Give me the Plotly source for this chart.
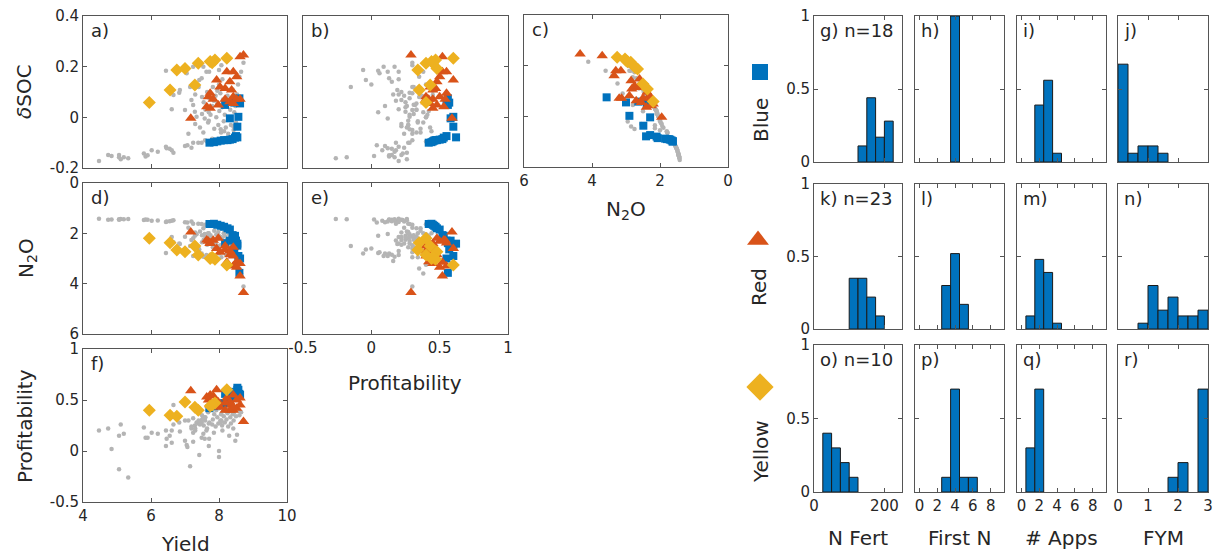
import plotly.graph_objects as go

W, H = 1220, 556
BLUE = '#0072BD'
RED = '#D95319'
YELLOW = '#EDB120'
GRAY = '#b4b4b4'
AXC = '#555555'
TXT = '#262626'
FONT = 'DejaVu Sans'

# ---------------- scatter data ----------------
gray_yield = [4.47, 4.74, 4.84, 5.06, 5.11, 5.06, 5.20, 5.33, 5.79, 5.84, 5.90, 6.02, 6.20, 6.44,
              6.46, 6.55, 6.61, 6.66, 7.00, 7.07, 7.19, 7.24, 7.39, 7.49, 7.59, 7.65, 7.80,
              6.44, 6.61, 6.66, 6.83, 7.00, 7.05, 7.15, 7.19, 7.24, 7.24, 7.29, 7.34, 7.42, 7.49,
              7.54, 7.63, 7.71, 8.07, 8.00, 8.00, 6.85,
              7.55, 7.60, 7.65, 7.68, 7.72, 7.75, 7.80, 7.82, 7.86, 7.90, 7.92, 7.95, 7.98, 8.01,
              8.04, 8.06, 8.09, 8.12, 8.14, 8.17, 8.20, 8.22, 8.25, 8.27, 8.30, 8.33, 8.35, 8.38,
              8.40, 8.43, 8.45, 8.48, 8.50, 8.53, 8.56, 8.60, 8.65, 8.72,
              7.58, 7.70, 7.85, 8.10, 8.30, 7.95, 8.15, 8.35, 7.50, 7.40, 7.30, 8.42, 7.10, 7.44,
              7.54, 7.30, 7.50, 7.70, 8.05]
gray_profit = [0.20, 0.22, 0.02, 0.15, 0.26, -0.18, 0.17, -0.26, 0.23, 0.13, 0.13, 0.18, 0.17, 0.20,
               0.12, 0.15, 0.08, 0.26, 0.10, 0.04, 0.24, 0.18, 0.27, 0.28, 0.30, 0.40, 0.44,
               0.05, 0.20, 0.45, 0.28, 0.30, 0.06, -0.15, 0.22, 0.32, 0.09, 0.25, 0.28, -0.04, 0.13,
               0.17, 0.20, 0.12, 0.30, -0.06, 0.00, 0.19,
               0.25, 0.33, 0.22, 0.38, 0.28, 0.41, 0.26, 0.31, 0.36, 0.24, 0.40, 0.33, 0.27, 0.42,
               0.30, 0.36, 0.25, 0.39, 0.34, 0.28, 0.43, 0.31, 0.37, 0.24, 0.40, 0.33, 0.27, 0.42,
               0.36, 0.30, 0.38, 0.10, 0.34, 0.16, 0.40, 0.35, 0.38, 0.30,
               0.12, 0.05, 0.18, 0.20, 0.15, 0.45, 0.44, 0.45, 0.35, 0.30, 0.20, 0.22, 0.30, 0.26,
               0.33, 0.22, 0.31, 0.27, 0.28]
gray_dsoc = [-0.172, -0.149, -0.153, -0.149, -0.165, -0.158, -0.158, -0.162, -0.143, -0.155, -0.150,
             -0.130, -0.136, -0.116, -0.122, -0.124, -0.130, -0.140, -0.113, -0.110, -0.120, -0.100,
             -0.100, -0.100, -0.090, -0.095, -0.085,
             0.184, 0.032, 0.088, 0.097, 0.029, 0.174, 0.120, 0.068, 0.049, 0.200, 0.022, 0.002,
             0.147, 0.154, 0.200, 0.180, 0.180, 0.206, 0.187, 0.130, 0.108,
             0.060, 0.030, 0.100, -0.020, 0.075, 0.010, 0.045, 0.120, -0.045, 0.085, 0.000, 0.055,
             -0.030, 0.025, 0.095, -0.060, 0.040, 0.070, -0.015, 0.010, -0.040, 0.050, 0.085,
             -0.065, 0.000, 0.030, -0.030, 0.060, 0.110, -0.050, 0.020, 0.045, -0.020, 0.090,
             0.130, 0.160, 0.180, 0.215,
             -0.005, 0.020, 0.065, 0.150, 0.140, 0.105, -0.055, 0.075, 0.080, 0.120, 0.090, -0.035,
             -0.065, -0.040, -0.060, -0.026, 0.013, -0.013, -0.047]
gray_n2o = [1.42, 1.46, 1.45, 1.46, 1.43, 1.44, 1.44, 1.43, 1.47, 1.45, 1.46, 1.50, 1.49, 1.55,
            1.53, 1.52, 1.50, 1.48, 1.56, 1.57, 1.53, 1.62, 1.62, 1.63, 1.66, 1.64, 1.68,
            2.78, 2.15, 2.35, 2.40, 2.14, 2.75, 2.50, 2.26, 2.20, 2.90, 2.10, 2.04, 2.64, 2.80,
            2.93, 2.86, 2.90, 2.95, 2.80, 2.60, 2.42,
            2.25, 2.14, 2.45, 2.00, 2.30, 2.08, 2.20, 2.55, 1.90, 2.40, 2.05, 2.22, 1.95, 2.12,
            2.47, 1.80, 2.18, 2.33, 2.00, 2.10, 2.85, 2.25, 2.40, 1.78, 2.05, 2.14, 2.55, 2.30,
            2.62, 2.75, 2.50, 2.80, 2.95, 3.10, 3.25, 3.40, 3.60, 4.11,
            2.03, 2.10, 2.28, 2.70, 2.85, 2.50, 2.00, 2.45, 2.35, 2.60, 2.40, 2.15, 1.78, 1.93,
            1.80, 1.97, 2.08, 2.00, 2.15]

blue_yield = [7.72, 7.85, 7.95, 8.05, 8.15, 8.25, 8.32, 8.40, 8.47, 8.50, 8.54, 8.54, 8.32, 8.57,
              8.18, 8.45, 8.60, 8.62]
blue_profit = [0.42, 0.44, 0.45, 0.46, 0.47, 0.48, 0.50, 0.52, 0.53, 0.55, 0.62, 0.60, 0.58, 0.60,
               0.56, 0.57, 0.56, 0.55]
blue_dsoc = [-0.100, -0.098, -0.095, -0.092, -0.090, -0.090, -0.088, -0.086, -0.080, -0.074, -0.079,
             -0.037, -0.004, 0.002, 0.049, 0.058, 0.075, 0.055]
blue_n2o = [1.63, 1.62, 1.66, 1.70, 1.74, 1.80, 1.85, 2.07, 2.10, 2.29, 2.41, 2.49, 2.29, 2.90,
            2.39, 2.64, 3.57, 3.00]

red_yield = [8.72, 8.62, 7.93, 8.23, 8.42, 8.52, 8.32, 8.18, 8.37, 8.42, 8.52, 8.62, 8.32, 7.74,
             7.69, 7.83, 7.98, 7.74, 7.64, 7.17, 8.42, 8.18, 8.03]
red_profit = [0.29, 0.52, 0.60, 0.52, 0.55, 0.50, 0.48, 0.47, 0.45, 0.40, 0.42, 0.45, 0.40, 0.55,
              0.50, 0.54, 0.48, 0.45, 0.53, 0.59, 0.43, 0.40, 0.43]
red_dsoc = [0.246, 0.239, 0.147, 0.180, 0.180, 0.160, 0.140, 0.114, 0.108, 0.081, 0.071, 0.071,
            0.062, 0.095, 0.081, 0.071, 0.049, 0.036, 0.042, -0.004, 0.055, 0.071, 0.120]
red_n2o = [4.35, 3.70, 2.60, 3.15, 3.30, 3.35, 2.85, 2.65, 2.83, 2.90, 3.13, 3.20, 2.70, 2.38,
           2.31, 2.27, 2.20, 2.40, 2.26, 1.95, 2.55, 2.50, 2.75]

yellow_yield = [5.95, 6.56, 6.76, 7.00, 7.29, 7.39, 7.74, 7.88, 8.23, 7.80]
yellow_profit = [0.40, 0.35, 0.34, 0.48, 0.43, 0.40, 0.44, 0.47, 0.60, 0.45]
yellow_dsoc = [0.059, 0.108, 0.187, 0.193, 0.128, 0.213, 0.220, 0.226, 0.233, 0.215]
yellow_n2o = [2.20, 2.37, 2.66, 2.73, 2.50, 2.86, 3.00, 3.03, 3.26, 2.95]

# ---------------- histogram data (fraction of cluster members) ----------------
cluster_names = ['Blue', 'Red', 'Yellow']
cluster_n = [18, 23, 10]

nfert_left = [0, 25, 50, 75, 100, 125, 150, 175, 200, 225]
blue_nfert = [0, 0, 0, 0, 0, 0.11, 0.44, 0.17, 0.28, 0]
red_nfert = [0, 0, 0, 0, 0.35, 0.35, 0.22, 0.09, 0, 0]
yellow_nfert = [0, 0.40, 0.30, 0.20, 0.10, 0, 0, 0, 0, 0]

firstn_center = [0, 1, 2, 3, 4, 5, 6, 7, 8, 9]
blue_firstn = [0, 0, 0, 0, 1.00, 0, 0, 0, 0, 0]
red_firstn = [0, 0, 0, 0.30, 0.52, 0.17, 0, 0, 0, 0]
yellow_firstn = [0, 0, 0, 0.10, 0.70, 0.10, 0.10, 0, 0, 0]

apps_center = [0, 1, 2, 3, 4, 5, 6, 7, 8, 9]
blue_apps = [0, 0, 0.39, 0.56, 0.06, 0, 0, 0, 0, 0]
red_apps = [0, 0.09, 0.48, 0.39, 0.04, 0, 0, 0, 0, 0]
yellow_apps = [0, 0.30, 0.70, 0, 0, 0, 0, 0, 0, 0]

fym_left = [0, 1/3, 2/3, 1, 4/3, 5/3, 2, 7/3, 8/3]
blue_fym = [0.67, 0.06, 0.11, 0.11, 0.06, 0, 0, 0, 0]
red_fym = [0, 0, 0.04, 0.30, 0.13, 0.22, 0.09, 0.09, 0.13]
yellow_fym = [0, 0, 0, 0, 0, 0.10, 0.20, 0, 0.70]

# ---------------- build figure ----------------
fig = go.Figure()
layout = {}
annotations = []

BASE = dict(showline=True, linecolor=AXC, linewidth=1, mirror='ticks', ticks='inside',
            ticklen=4, tickwidth=1, tickcolor=AXC, showgrid=False, zeroline=False,
            automargin=False, tickfont=dict(family=FONT, size=15, color=TXT), fixedrange=True)


def names(i):
    s = '' if i == 1 else str(i)
    return 'xaxis' + s, 'yaxis' + s, 'x' + s, 'y' + s


def xdom(l, r):
    return [l / W, r / W]


def ydom(t, b):
    return [1 - b / H, 1 - t / H]


def ann(x, y, text, size=18, xanchor='center', yanchor='middle', angle=0, color=TXT):
    annotations.append(dict(x=x / W, y=1 - y / H, xref='paper', yref='paper', text=text,
                            showarrow=False, xanchor=xanchor, yanchor=yanchor, textangle=angle,
                            font=dict(family=FONT, size=size, color=color)))


VARS = {
    'yield': [gray_yield, blue_yield, red_yield, yellow_yield],
    'profit': [gray_profit, blue_profit, red_profit, yellow_profit],
    'dsoc': [gray_dsoc, blue_dsoc, red_dsoc, yellow_dsoc],
    'n2o': [gray_n2o, blue_n2o, red_n2o, yellow_n2o],
}
TICKS = {
    'yield': ([4, 6, 8, 10], ['4', '6', '8', '10'], [4, 10]),
    'profit': ([-0.5, 0, 0.5, 1], ['-0.5', '0', '0.5', '1'], [-0.5, 1]),
    'dsoc': ([-0.2, 0, 0.2, 0.4], ['-0.2', '0', '0.2', '0.4'], [-0.2, 0.4]),
    'n2o': ([0, 2, 4, 6], ['0', '2', '4', '6'], [6, 0]),
}
STYLES = [
    dict(color=GRAY, symbol='circle', size=4.5, opacity=1, line=dict(width=0)),
    dict(color=BLUE, symbol='square', size=8, opacity=1, line=dict(width=0)),
    dict(color=RED, symbol='triangle-up', size=10, opacity=1, line=dict(width=0)),
    dict(color=YELLOW, symbol='diamond', size=10, opacity=1, line=dict(width=0)),
]

panels = [
    ('a)', 'yield', 'dsoc', (83, 287, 16, 168), False, True),
    ('b)', 'profit', 'dsoc', (303, 508, 16, 168), False, False),
    ('c)', 'n2o', 'dsoc', (524, 728, 15, 167), True, False),
    ('d)', 'yield', 'n2o', (83, 287, 183, 334), False, True),
    ('e)', 'profit', 'n2o', (303, 508, 183, 334), True, False),
    ('f)', 'yield', 'profit', (83, 287, 349, 502), True, True),
]

for i, (lab, xv, yv, (l, r, t, b), showx, showy) in enumerate(panels, start=1):
    xa, ya, xr, yr = names(i)
    tv, tt, rg = TICKS[xv]
    layout[xa] = dict(BASE, domain=xdom(l, r), anchor=yr, range=rg, tickvals=tv, ticktext=tt,
                      showticklabels=showx)
    tv, tt, rg = TICKS[yv]
    layout[ya] = dict(BASE, domain=ydom(t, b), anchor=xr, range=rg, tickvals=tv, ticktext=tt,
                      showticklabels=showy)
    for k in range(4):
        fig.add_trace(go.Scatter(x=VARS[xv][k], y=VARS[yv][k], mode='markers',
                                 marker=STYLES[k], xaxis=xr, yaxis=yr, showlegend=False,
                                 hoverinfo='skip'))
    ann(l + 6, t + 2, lab, size=18, xanchor='left', yanchor='top')

# axis titles for scatter matrix
ann(24, 92, '<i>δ</i>SOC', size=20, angle=-90)
ann(27, 258, 'N<sub>2</sub>O', size=20, angle=-90)
ann(25, 426, 'Profitability', size=20, angle=-90)
ann(185, 544, 'Yield', size=20)
ann(405, 383, 'Profitability', size=20)
ann(626, 210, 'N<sub>2</sub>O', size=20)

# ---------------- histograms ----------------
cols = [(814, 902), (915, 1004), (1017, 1106), (1118, 1208)]
rows = [(16, 162), (184, 329), (345, 492)]
hist_specs = [
    ('N Fert', nfert_left, 25, True, [blue_nfert, red_nfert, yellow_nfert], [0, 250],
     [0, 200], ['0', '200']),
    ('First N', firstn_center, 1, False, [blue_firstn, red_firstn, yellow_firstn], [-0.5, 9.5],
     [0, 2, 4, 6, 8], ['0', '2', '4', '6', '8']),
    ('# Apps', apps_center, 1, False, [blue_apps, red_apps, yellow_apps], [-0.5, 9.5],
     [0, 2, 4, 6, 8], ['0', '2', '4', '6', '8']),
    ('FYM', fym_left, 1 / 3, True, [blue_fym, red_fym, yellow_fym], [0, 3],
     [0, 1, 2, 3], ['0', '1', '2', '3']),
]
letters = 'ghijklmnopqr'
idx = 7
for ri, (t, b) in enumerate(rows):
    for ci, (l, r) in enumerate(cols):
        title, pos, width, is_left, series, xr_, tvs, tts = hist_specs[ci]
        xa, ya, xr, yr = names(idx)
        layout[xa] = dict(BASE, domain=xdom(l, r), anchor=yr, range=xr_, tickvals=tvs,
                          ticktext=tts, showticklabels=(ri == 2))
        layout[ya] = dict(BASE, domain=ydom(t, b), anchor=xr, range=[0, 1],
                          tickvals=[0, 0.5, 1], ticktext=['0', '0.5', '1'],
                          showticklabels=(ci == 0))
        heights = series[ri]
        xs = [(p + width / 2) if is_left else p for p, h in zip(pos, heights) if h > 0]
        ys = [h for h in heights if h > 0]
        fig.add_trace(go.Bar(x=xs, y=ys, width=width, xaxis=xr, yaxis=yr, showlegend=False,
                             marker=dict(color=BLUE, line=dict(color='#1a1a1a', width=1)),
                             hoverinfo='skip'))
        lab = letters[(idx - 7)] + ')'
        if ci == 0:
            lab += ' n=' + str(cluster_n[ri])
        ann(l + 4, t + 2, lab, size=18, xanchor='left', yanchor='top')
        idx += 1

for ci, (l, r) in enumerate(cols):
    ann((l + r) / 2, 538, hist_specs[ci][0], size=20)

# row labels with cluster markers
ann(761, 120, 'Blue', size=20, angle=-90)
ann(759, 287, 'Red', size=20, angle=-90)
ann(761, 452, 'Yellow', size=20, angle=-90)

# small dedicated (non-overlapping) axis holding the cluster key markers
xa, ya, xr, yr = names(19)
KEY_L, KEY_R, KEY_T, KEY_B = 740, 780, 50, 410
layout[xa] = dict(domain=xdom(KEY_L, KEY_R), range=[KEY_L, KEY_R], visible=False,
                  fixedrange=True, anchor=yr, automargin=False)
layout[ya] = dict(domain=ydom(KEY_T, KEY_B), range=[KEY_B, KEY_T], visible=False,
                  fixedrange=True, anchor=xr, automargin=False)
marker_pos_x = [760, 758, 760]
marker_pos_y = [72, 240, 387]
fig.add_trace(go.Scatter(x=marker_pos_x, y=marker_pos_y, mode='markers', xaxis=xr, yaxis=yr,
                         showlegend=False, hoverinfo='skip', cliponaxis=False,
                         marker=dict(color=[BLUE, RED, YELLOW], opacity=1,
                                     symbol=['square', 'triangle-up', 'diamond'],
                                     size=[16, 19, 21], line=dict(width=0))))

fig.update_layout(template='none', width=W, height=H, autosize=False,
                  margin=dict(l=0, r=0, t=0, b=0, pad=0),
                  paper_bgcolor='white', plot_bgcolor='rgba(0,0,0,0)', showlegend=False,
                  annotations=annotations, bargap=0, font=dict(family=FONT, color=TXT),
                  **layout)
fig.write_html('out.html', config={'displayModeBar': False, 'staticPlot': True},
               post_script="document.body.style.margin='0';")
